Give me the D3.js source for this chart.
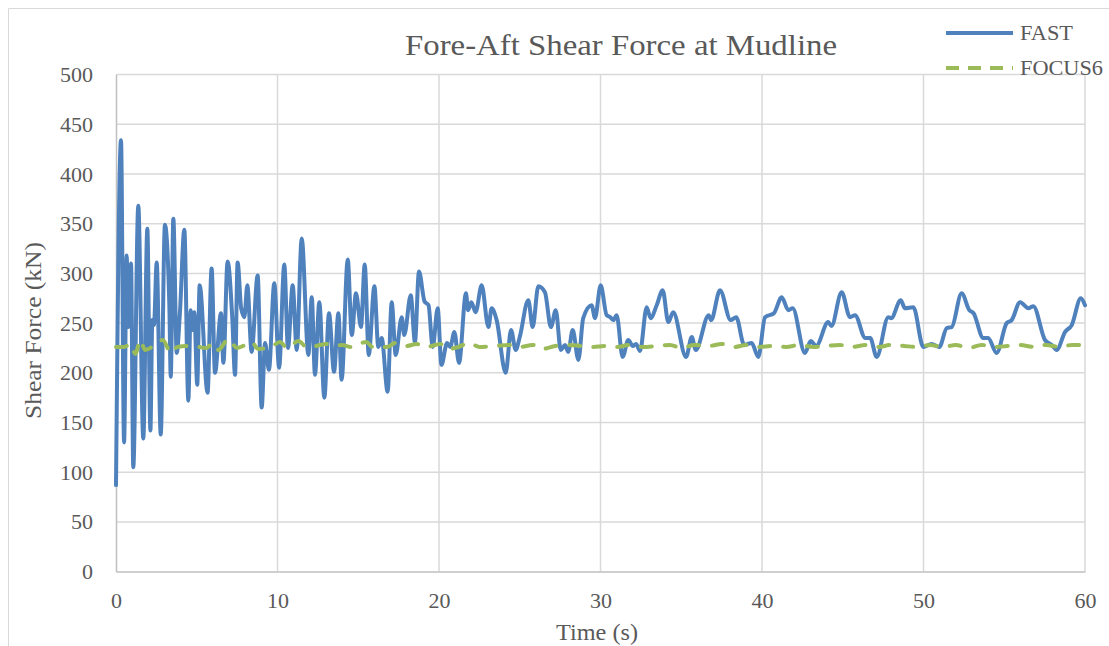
<!DOCTYPE html>
<html>
<head>
<meta charset="utf-8">
<script src="https://cdn.jsdelivr.net/npm/d3@7"></script>
<style>
  html, body { margin: 0; padding: 0; background: #ffffff; }
  svg { display: block; }
  text { font-family: "Liberation Serif", "DejaVu Serif", serif; fill: #595959; }
</style>
</head>
<body>
<svg id="chart" width="1109" height="646"></svg>
<script>
// ---- data ----
const chartTitle = "Fore-Aft Shear Force at Mudline";
const xAxisTitle = "Time (s)";
const yAxisTitle = "Shear Force (kN)";
const seriesNames = ["FAST", "FOCUS6"];
const xTicks = [0, 10, 20, 30, 40, 50, 60];
const yTicks = [0, 50, 100, 150, 200, 250, 300, 350, 400, 450, 500];

const fastTime = [0, 0.31, 0.5, 0.66, 0.76, 0.93, 1.07, 1.38, 1.69, 1.94, 2.13, 2.25, 2.35, 2.52, 2.77, 3.03, 3.3, 3.39, 3.55, 3.76, 3.96, 4.23, 4.48, 4.62, 4.74, 4.85, 5.03, 5.18, 5.67, 5.92, 6.13, 6.5, 6.65, 6.91, 7.2, 7.37, 7.53, 7.75, 7.95, 8.13, 8.4, 8.77, 9.02, 9.23, 9.47, 9.8, 10.1, 10.42, 10.65, 10.94, 11.19, 11.5, 11.91, 12.12, 12.32, 12.59, 12.9, 13.19, 13.5, 13.77, 13.97, 14.35, 14.6, 14.86, 15.17, 15.4, 15.65, 16.0, 16.24, 16.45, 16.82, 17.07, 17.32, 17.69, 17.85, 18.25, 18.51, 18.76, 19.1, 19.35, 19.61, 19.92, 20.15, 20.5, 20.7, 20.95, 21.24, 21.67, 21.8, 22.0, 22.27, 22.64, 23.06, 23.26, 23.57, 24.13, 24.46, 24.75, 25.0, 25.53, 25.8, 26.15, 26.56, 26.93, 27.23, 27.54, 27.8, 28.0, 28.28, 28.63, 28.93, 29.45, 29.66, 30.01, 30.38, 30.6, 30.8, 31.0, 31.37, 31.72, 32.0, 32.2, 32.45, 32.86, 33.1, 33.48, 33.85, 34.2, 34.5, 35.3, 35.65, 35.9, 36.7, 36.85, 37.4, 38.06, 38.4, 38.9, 39.36, 39.77, 40.19, 40.74, 41.22, 41.63, 41.9, 42.66, 43.02, 43.35, 44.1, 44.3, 44.93, 45.45, 45.76, 46.4, 46.7, 47.1, 47.82, 48.0, 48.59, 48.85, 49.37, 49.99, 50.5, 50.98, 51.44, 51.75, 52.36, 52.84, 53.1, 53.7, 54.0, 54.53, 55.15, 55.46, 55.98, 56.49, 56.8, 57.52, 57.94, 58.25, 58.76, 59.18, 59.74, 60];
const fastValue = [87, 434, 130, 318, 246, 310, 105, 368, 134, 345, 142, 253, 248, 311, 138, 349, 270, 196, 355, 220, 261, 344, 172, 263, 243, 261, 188, 288, 180, 305, 200, 260, 210, 312, 255, 198, 311, 265, 256, 288, 221, 298, 165, 230, 203, 290, 205, 309, 225, 288, 223, 335, 218, 276, 198, 271, 175, 260, 201, 260, 193, 314, 238, 280, 246, 309, 218, 287, 226, 235, 181, 271, 218, 256, 238, 278, 231, 302, 272, 268, 226, 265, 208, 230, 226, 241, 210, 280, 263, 271, 261, 288, 246, 265, 253, 200, 243, 223, 236, 273, 246, 287, 281, 246, 263, 223, 228, 221, 243, 213, 255, 268, 255, 288, 258, 256, 253, 258, 216, 233, 227, 229, 222, 266, 255, 268, 283, 251, 261, 216, 236, 223, 258, 253, 283, 253, 256, 228, 230, 216, 256, 260, 276, 263, 265, 220, 232, 227, 251, 247, 281, 256, 258, 235, 235, 216, 256, 255, 273, 265, 266, 226, 229, 226, 245, 246, 280, 263, 260, 235, 235, 220, 250, 253, 271, 265, 267, 233, 228, 223, 241, 248, 275, 268];

const focusTime = [0, 0.5, 0.9, 1.2, 1.5, 1.8, 2.4, 2.9, 3.4, 3.8, 4.5, 5.1, 5.6, 6.0, 6.35, 6.95, 7.5, 8.0, 8.4, 8.8, 9.6, 10.15, 10.6, 11.3, 11.8, 12.4, 13.0, 13.5, 14.0, 14.5, 15.5, 15.9, 16.8, 17.3, 18.0, 18.6, 19.2, 20.1, 20.6, 21.2, 21.85, 22.5, 23.5, 24.3, 25.0, 25.8, 26.4, 27.2, 28.0, 28.8, 29.5, 30.3, 31.0, 31.8, 32.6, 33.5, 34.3, 35.0, 35.8, 36.7, 37.5, 38.3, 39.0, 39.8, 40.6, 41.5, 42.3, 43.2, 44.0, 44.8, 45.6, 46.4, 47.2, 48.0, 48.8, 49.6, 50.4, 51.2, 52.0, 52.8, 53.6, 54.4, 55.2, 56.0, 56.8, 57.6, 58.4, 59.2, 60];
const focusValue = [226, 226, 229, 219, 233, 223, 228, 233, 220, 226, 227, 226, 225, 230, 223, 234, 225, 228, 231, 224, 226, 231, 225, 232, 226, 227, 229, 227, 228, 226, 231, 226, 226, 230, 227, 229, 226, 229, 224, 226, 230, 226, 227, 228, 226, 228, 224, 227, 228, 227, 226, 227, 226, 228, 226, 227, 228, 225, 228, 227, 229, 226, 228, 226, 227, 226, 228, 226, 227, 228, 226, 228, 226, 228, 227, 226, 228, 226, 228, 225, 228, 226, 227, 228, 226, 228, 226, 228, 228];

// ---- layout ----
const W = 1109, H = 646;
const plot = { left: 116, right: 1085, top: 74.6, bottom: 571.6 };
const colors = { FAST: "#4f81bd", FOCUS6: "#9bbb59" };

const svg = d3.select("#chart");

const x = d3.scaleLinear().domain([0, 60]).range([plot.left, plot.right]);
const y = d3.scaleLinear().domain([0, 500]).range([plot.bottom, plot.top]);

// chart frame (partially visible)
svg.append("path")
  .attr("d", `M8.5,${H + 2} L8.5,8.5 L${W + 2},8.5`)
  .attr("fill", "none").attr("stroke", "#d9d9d9").attr("stroke-width", 1);

// gridlines
svg.append("g").selectAll("line").data(yTicks.filter(d => d > 0)).join("line")
  .attr("x1", plot.left).attr("x2", plot.right)
  .attr("y1", d => y(d)).attr("y2", d => y(d))
  .attr("stroke", "#d9d9d9").attr("stroke-width", 1.5);
svg.append("g").selectAll("line").data(xTicks.filter(d => d > 0)).join("line")
  .attr("y1", plot.top).attr("y2", plot.bottom)
  .attr("x1", d => x(d)).attr("x2", d => x(d))
  .attr("stroke", "#d9d9d9").attr("stroke-width", 1.5);

// axes
const xAxis = d3.axisBottom(x).tickValues(xTicks).tickSize(0).tickPadding(21).tickFormat(d3.format("d"));
const yAxis = d3.axisLeft(y).tickValues(yTicks).tickSize(0).tickPadding(23).tickFormat(d3.format("d"));

const gx = svg.append("g").attr("transform", `translate(0,${plot.bottom})`).call(xAxis);
gx.select(".domain").attr("stroke", "#bfbfbf").attr("stroke-width", 1.5);
gx.selectAll("text").attr("font-size", 22).attr("fill", "#595959")
  .attr("font-family", "'Liberation Serif', serif");

const gy = svg.append("g").attr("transform", `translate(${plot.left},0)`).call(yAxis);
gy.select(".domain").attr("stroke", "#bfbfbf").attr("stroke-width", 1.5);
gy.selectAll("text").attr("font-size", 22).attr("fill", "#595959")
  .attr("font-family", "'Liberation Serif', serif");

// lines
const fastData = fastTime.map((t, i) => ({ t, v: fastValue[i] }));
const focusData = focusTime.map((t, i) => ({ t, v: focusValue[i] }));

const line = d3.line().x(d => x(d.t)).y(d => y(d.v)).curve(d3.curveMonotoneX);

svg.append("path").datum(fastData)
  .attr("d", line).attr("fill", "none")
  .attr("stroke", colors.FAST).attr("stroke-width", 4)
  .attr("stroke-linejoin", "round").attr("stroke-linecap", "round");

svg.append("path").datum(focusData)
  .attr("d", line).attr("fill", "none")
  .attr("stroke", colors.FOCUS6).attr("stroke-width", 4)
  .attr("stroke-dasharray", "11,13").attr("stroke-linecap", "round");

// title
svg.append("text").text(chartTitle)
  .attr("x", 621).attr("y", 55).attr("text-anchor", "middle")
  .attr("font-size", 30).attr("fill", "#595959")
  .attr("textLength", 432).attr("lengthAdjust", "spacingAndGlyphs");

// axis titles
svg.append("text").text(xAxisTitle)
  .attr("x", 597).attr("y", 640).attr("text-anchor", "middle")
  .attr("font-size", 24).attr("fill", "#595959")
  .attr("textLength", 82).attr("lengthAdjust", "spacingAndGlyphs");

svg.append("text").text(yAxisTitle)
  .attr("transform", `translate(41,${(242 + 419) / 2}) rotate(-90)`)
  .attr("text-anchor", "middle")
  .attr("font-size", 24).attr("fill", "#595959")
  .attr("textLength", 177).attr("lengthAdjust", "spacingAndGlyphs");

// legend
const legend = svg.append("g");
seriesNames.forEach((name, i) => {
  const ly = 33 + i * 35;
  legend.append("line")
    .attr("x1", 946).attr("x2", 1013).attr("y1", ly).attr("y2", ly)
    .attr("stroke", colors[name]).attr("stroke-width", 4)
    .attr("stroke-dasharray", name === "FOCUS6" ? "13,9" : null);
  legend.append("text").text(name)
    .attr("x", 1020).attr("y", ly + 7)
    .attr("font-size", 21).attr("fill", "#595959")
    .attr("textLength", name === "FAST" ? 53 : 83).attr("lengthAdjust", "spacingAndGlyphs");
});
</script>
</body>
</html>
